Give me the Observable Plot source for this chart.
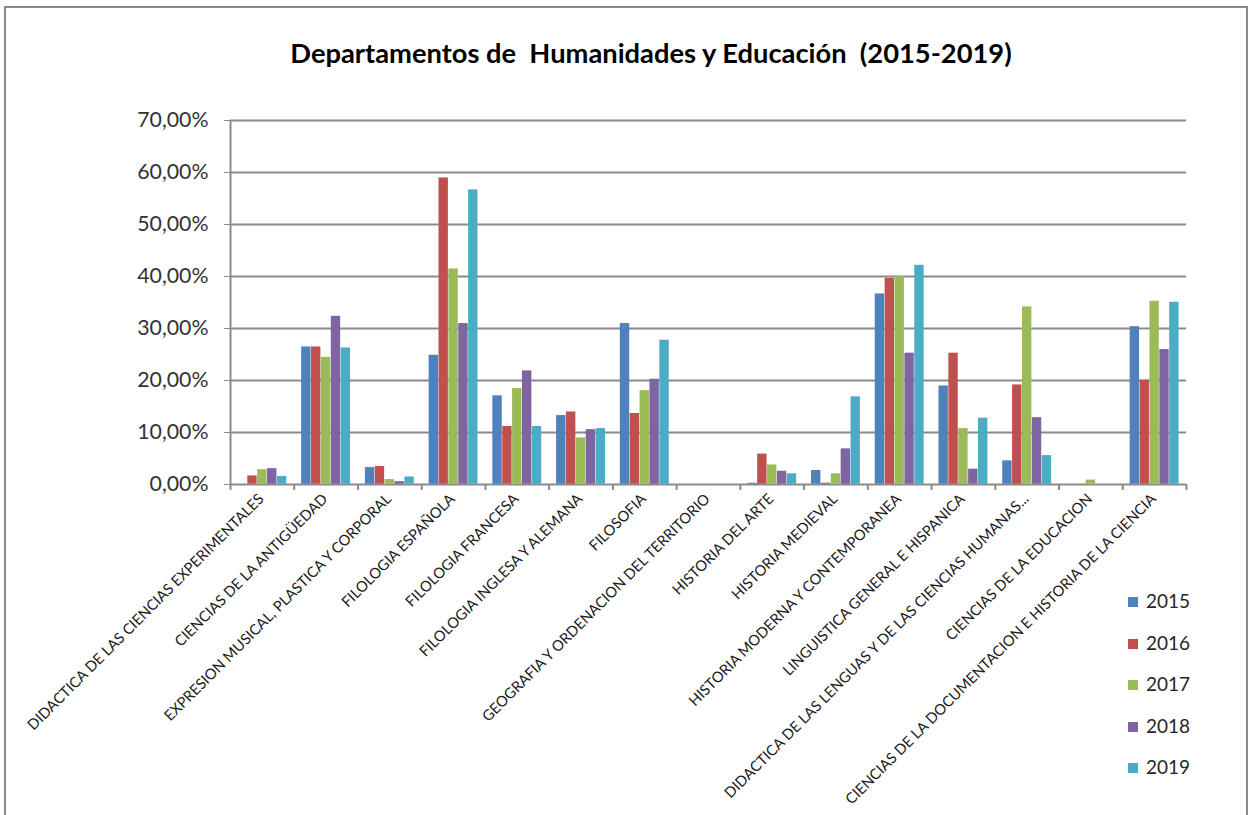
<!DOCTYPE html>
<html>
<head>
<meta charset="utf-8">
<script src="https://cdn.jsdelivr.net/npm/d3@7"></script>
<script src="https://cdn.jsdelivr.net/npm/@observablehq/plot@0.6"></script>
<style>
  html, body { margin: 0; padding: 0; background: #fff; }
  #wrap { position: relative; width: 1252px; height: 815px; overflow: hidden; font-family: Lato, "Liberation Sans", sans-serif; }
  #border { position: absolute; left: 4px; top: 6px; width: 1240px; height: 840px; border: 2px solid #8a8a8a; }
  #title { position: absolute; left: 0; width: 1302px; top: 36px; text-align: center; font-weight: bold; font-size: 27.3px; color: #000; white-space: pre; }
  .layer { position: absolute; left: 0; top: 0; }
  #chartA g[aria-label^="y-axis"] text { font-size: 21.3px; fill: #333; }
  #legend { position: absolute; left: 1128px; top: 589px; font-size: 19px; color: #262626; }
  #legend .row { height: 41.5px; display: flex; align-items: flex-start; }
  #legend .sw { width: 10px; height: 10px; margin-top: 8px; margin-right: 8px; }
</style>
</head>
<body>
<div id="wrap">
  <div id="border"></div>
  <div id="title">Departamentos de  Humanidades y Educación  (2015-2019)</div>
  <div id="chartA" class="layer"></div>
  <div id="chartB" class="layer"></div>
  <div id="legend"></div>
</div>
<script>
const categories = [
  "DIDACTICA DE LAS CIENCIAS EXPERIMENTALES",
  "CIENCIAS DE LA ANTIGÜEDAD",
  "EXPRESION MUSICAL, PLASTICA Y CORPORAL",
  "FILOLOGIA ESPAÑOLA",
  "FILOLOGIA FRANCESA",
  "FILOLOGIA INGLESA Y ALEMANA",
  "FILOSOFIA",
  "GEOGRAFIA Y ORDENACION DEL TERRITORIO",
  "HISTORIA DEL ARTE",
  "HISTORIA MEDIEVAL",
  "HISTORIA MODERNA Y CONTEMPORANEA",
  "LINGUISTICA GENERAL E HISPANICA",
  "DIDACTICA DE LAS LENGUAS Y DE LAS CIENCIAS HUMANAS...",
  "CIENCIAS DE LA EDUCACION",
  "CIENCIAS DE LA DOCUMENTACION E HISTORIA DE LA CIENCIA"
];
const years = ["2015", "2016", "2017", "2018", "2019"];
const colors = ["#4F81BD", "#C0504D", "#9BBB59", "#8064A2", "#4BACC6"];

// percentages per year, in category order
const v2015 = [0, 26.5, 3.3, 24.9, 17.1, 13.3, 31.0, 0, 0.3, 2.75, 36.7, 19.0, 4.6, 0, 30.4];
const v2016 = [1.7, 26.5, 3.5, 59.0, 11.2, 14.0, 13.7, 0, 5.9, 0.3, 39.7, 25.3, 19.2, 0, 20.1];
const v2017 = [2.9, 24.5, 1.0, 41.5, 18.5, 9.0, 18.1, 0, 3.8, 2.1, 40.1, 10.8, 34.2, 0.9, 35.3];
const v2018 = [3.1, 32.4, 0.6, 31.0, 21.9, 10.6, 20.3, 0, 2.6, 6.9, 25.3, 3.0, 12.9, 0, 26.0];
const v2019 = [1.6, 26.3, 1.5, 56.7, 11.2, 10.8, 27.8, 0, 2.1, 16.9, 42.2, 12.8, 5.6, 0, 35.1];

const yTicks = [0, 10, 20, 30, 40, 50, 60, 70];

const series = [v2015, v2016, v2017, v2018, v2019];
const table = [];
categories.forEach((c, i) => years.forEach((y, k) => table.push({cat: c, year: y, value: series[k][i]})));

const W = 1252, H = 815;
const mL = 230, mR = 66, mT = 120, mB = 331;
const step = (W - mL - mR) / categories.length;
const fmt = d => d.toFixed(2).replace(".", ",") + "%";
const gridColor = "#8a8a8a";

const chartA = Plot.plot({
  width: W, height: H,
  marginLeft: mL, marginRight: mR, marginTop: mT, marginBottom: mB,
  style: {background: "transparent", color: gridColor, fontFamily: "Lato, sans-serif", overflow: "visible"},
  x: {type: "band", domain: categories, padding: 0, round: false, axis: null},
  y: {domain: [0, 70], ticks: yTicks, tickFormat: fmt, tickSize: 6, tickPadding: 16, label: null},
  marks: [
    Plot.ruleY(yTicks, {stroke: gridColor, strokeWidth: 2}),
    Plot.ruleX([categories[0]], {x: d => d, y1: 0, y2: 70, dx: -step / 2, stroke: gridColor, strokeWidth: 2}),
    Plot.ruleX(categories, {x: d => d, y1: 0, y2: 0, dx: -step / 2, insetBottom: -6, stroke: gridColor, strokeWidth: 2}),
    Plot.ruleX([categories[categories.length - 1]], {x: d => d, y1: 0, y2: 0, dx: step / 2, insetBottom: -6, stroke: gridColor, strokeWidth: 2}),
    Plot.text(categories, {x: d => d, y: 0, text: d => d, rotate: -45, textAnchor: "end", dx: -1, dy: 12, fontSize: 14.7, fill: "#1a1a1a"})
  ]
});
document.getElementById("chartA").appendChild(chartA);

const chartB = Plot.plot({
  width: W, height: H,
  marginLeft: mL, marginRight: mR, marginTop: mT, marginBottom: mB,
  style: {background: "transparent", overflow: "visible"},
  facet: {data: table, x: "cat"},
  fx: {domain: categories, paddingInner: 0.225, paddingOuter: 0.1125, round: false, axis: null, label: null},
  x: {domain: years, padding: 0, round: false, axis: null},
  y: {domain: [0, 70], axis: null},
  color: {domain: years, range: colors},
  marks: [
    Plot.barY(table, {x: "year", y: "value", fill: "year", inset: 0.25})
  ]
});
document.getElementById("chartB").appendChild(chartB);

const legend = document.getElementById("legend");
years.forEach((y, k) => {
  const row = document.createElement("div");
  row.className = "row";
  const sw = document.createElement("div");
  sw.className = "sw";
  sw.style.background = colors[k];
  const t = document.createElement("span");
  t.textContent = y;
  row.appendChild(sw); row.appendChild(t);
  legend.appendChild(row);
});
</script>
</body>
</html>
